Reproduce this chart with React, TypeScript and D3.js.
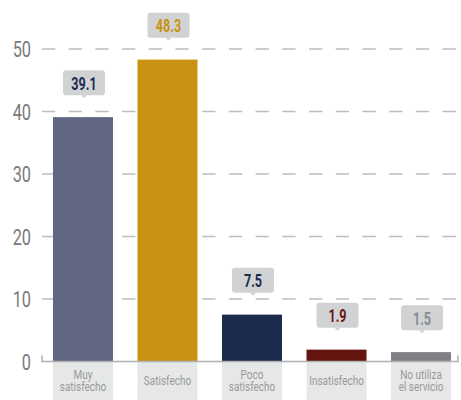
import React from "react";
import * as d3 from "d3";

const categories = [["Muy", "satisfecho"], ["Satisfecho"], ["Poco", "satisfecho"], ["Insatisfecho"], ["No utiliza", "el servicio"]];
const values = [39.1, 48.3, 7.5, 1.9, 1.5];
const barColors = ["#636882", "#c99212", "#1b2b4b", "#65150f", "#7f8083"];
const labelColors = ["#1b2c4f", "#c8920e", "#1b2c4f", "#6b1515", "#8a8c8e"];
const yTicks = [0, 10, 20, 30, 40, 50];

const W = 461;
const H = 400;
const FONT = "Roboto, 'Noto Sans', sans-serif";

function CText(props: { x: number; y: number; sx: number; anchor: string; size: number; fill: string; weight?: string | number; children: React.ReactNode }) {
  return (
    <text
      transform={`translate(${props.x},${props.y}) scale(${props.sx},1)`}
      textAnchor={props.anchor}
      fontSize={props.size}
      fill={props.fill}
      fontWeight={props.weight ?? "normal"}
      fontFamily={FONT}
    >
      {props.children}
    </text>
  );
}

export default function App() {
  const y = d3.scaleLinear().domain([0, 50]).range([361.5, 49]);
  const x = d3
    .scaleBand<number>()
    .domain(values.map((_, i) => i))
    .range([42, 462])
    .paddingInner(0.29)
    .paddingOuter(0.13);
  const bw = x.bandwidth();
  const y0 = y(0);
  return (
    <div style={{ position: "absolute", left: 0, top: 0 }}>
      <svg width={W} height={H} style={{ display: "block" }}>
        {yTicks.filter((t) => t > 0).map((t) => (
          <line key={t} x1={42} x2={461} y1={y(t)} y2={y(t)} stroke="#bdbdbd" strokeWidth={1.5} strokeDasharray="13.3 13.4" />
        ))}
        {yTicks.map((t) => (
          <CText key={t} x={31} y={y(t) + 8} sx={0.74} anchor="end" size={22} fill="#7a7a7a">
            {t}
          </CText>
        ))}
        {values.map((v, i) => (
          <rect key={i} x={x(i)} y={y(v)} width={bw} height={y0 - y(v)} fill={barColors[i]} />
        ))}
        {categories.map((c, i) => {
          const cx = (x(i) as number) + bw / 2;
          const startY = c.length === 1 ? 385 : 378.5;
          return (
            <g key={i}>
              <rect x={x(i)} y={y0 + 0.5} width={bw} height={H - y0} fill="#e6e7e7" />
              {c.map((line, j) => (
                <CText key={j} x={cx} y={startY + j * 12.5} sx={0.74} anchor="middle" size={13.5} fill="#9a9a9a">
                  {line}
                </CText>
              ))}
            </g>
          );
        })}
        <path d={`M42,${y0 - 6}V${y0}H458V${y0 - 6}`} fill="none" stroke="#b0b0b0" strokeWidth={1.5} />
        {values.map((v, i) => {
          const cx = (x(i) as number) + bw / 2 + 1;
          const bottom = y(v) - 22;
          const bwid = 42;
          const bh = 25;
          return (
            <g key={i}>
              <rect x={cx - bwid / 2} y={bottom - bh} width={bwid} height={bh} rx={3} fill="#d1d2d4" />
              <path d={`M${cx - 3},${bottom}L${cx},${bottom + 3}L${cx + 3},${bottom}Z`} fill="#d1d2d4" />
              <CText x={cx} y={bottom - 5.5} sx={0.7} anchor="middle" size={18} weight="bold" fill={labelColors[i]}>
                {v.toFixed(1)}
              </CText>
            </g>
          );
        })}
      </svg>
    </div>
  );
}
